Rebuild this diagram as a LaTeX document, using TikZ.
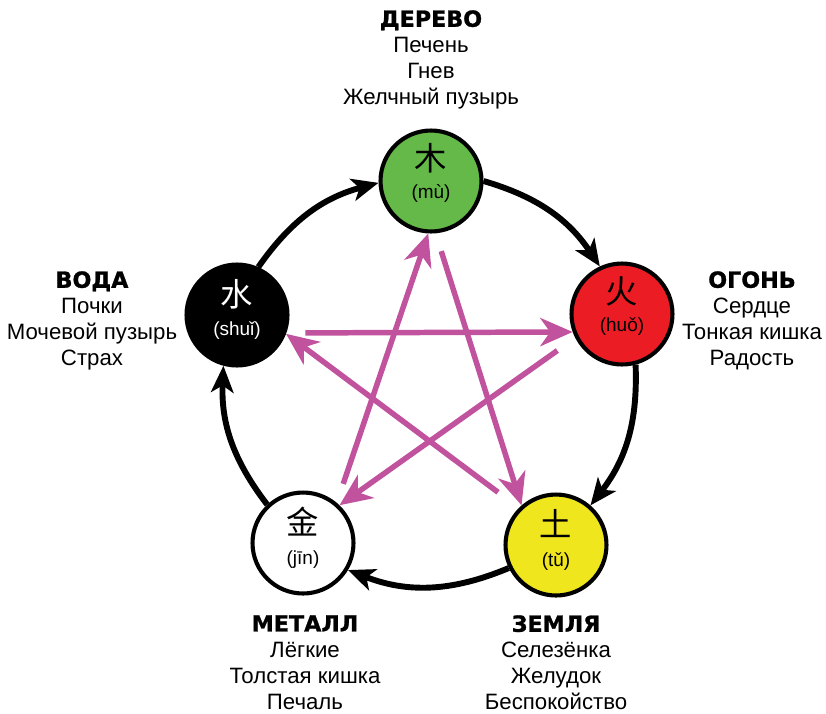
\documentclass[tikz,border=0pt]{standalone}
\usepackage{fontspec}
\setmainfont{Liberation Sans}
\newfontfamily\cjk{Noto Sans CJK SC}
\newfontfamily\headfont{DejaVu Sans Bold}[FakeBold=1.2]
\usetikzlibrary{arrows.meta}

\definecolor{woodgreen}{RGB}{100,185,72}
\definecolor{firered}{RGB}{236,28,36}
\definecolor{earthyellow}{RGB}{240,230,30}
\definecolor{ctrlpink}{RGB}{193,83,158}

\begin{document}
\begin{tikzpicture}[
			x = 0.025cm, y = -0.025cm,
			element/.style = {circle, draw, line width=2.9pt, minimum size=71.8pt, inner sep=0pt},
			hanzi/.style = {inner sep=0pt, font=\cjk\fontsize{23}{23}\selectfont},
			pinyin/.style = {inner sep=0pt, font=\fontsize{13.5}{15}\selectfont},
			organs/.style = {anchor=north, align=center, inner sep=0pt, font=\fontsize{15.8}{18.5}\selectfont},
			feed/.style = {line width=4.2pt, -{Stealth[length=19pt,width=16pt,inset=5pt]}},
			check/.style = {line width=3.9pt, ctrlpink, -{Stealth[length=23pt,width=20pt,inset=7pt]}}
			]

			\useasboundingbox (0,0) rectangle (826,713);

			% the five elements
			\node[element, fill=woodgreen] (wood) at (431,181) {};
			\node[element, fill=firered] (fire) at (622,314) {};
			\node[element, fill=earthyellow] (earth) at (556,545) {};
			\node[element, fill=white] (metal) at (303,543) {};
			\node[element, fill=black] (water) at (237,315) {};

			\node[hanzi] (woodzi) at (431,158) {木};
			\node[pinyin] (woodpy) at (431,193) {(mù)};
			\node[hanzi] (firezi) at (622,291) {火};
			\node[pinyin] (firepy) at (622,327) {(huǒ)};
			\node[hanzi] (earthzi) at (556,524) {土};
			\node[pinyin] (earthpy) at (556,562) {(tǔ)};
			\node[hanzi] (metalzi) at (303,522) {金};
			\node[pinyin] (metalpy) at (303,560) {(jīn)};
			\node[hanzi, white] (waterzi) at (237,294) {水};
			\node[pinyin, white] (waterpy) at (237,331) {(shuǐ)};

			% generating cycle
			\draw[feed] (wood.0) to[bend left=20] (fire.115);
			\draw[feed] (fire.-75) to[bend left=20] (earth.49);
			\draw[feed] (earth.206) to[bend left=22] (metal.-31);
			\draw[feed] (metal.133) to[bend left=20] (water.255);
			\draw[feed] (water.66) to[bend left=20] (wood.182);

			% controlling cycle
			\draw[check, shorten <=13.5pt] (water.-20) -- (fire.200);
			\draw[check, shorten <=15.6pt] (fire.207) -- (metal.46);
			\draw[check, shorten <=18.5pt] (earth.135) -- (water.-21);
			\draw[check, shorten <=14.2pt] (metal.50) -- (wood.-93);
			\draw[check, shorten <=13.3pt] (wood.-85) -- (earth.131);

			% labels
			\node[organs] (woodtext) at (431,10) {{\headfont ДЕРЕВО}\\Печень\\Гнев\\Желчный пузырь};
			\node[organs] (firetext) at (752,271) {{\headfont ОГОНЬ}\\Сердце\\Тонкая кишка\\Радость};
			\node[organs] (earthtext) at (556,615) {{\headfont ЗЕМЛЯ}\\Селезёнка\\Желудок\\Беспокойство};
			\node[organs] (metaltext) at (305,615) {{\headfont МЕТАЛЛ}\\Лёгкие\\Толстая кишка\\Печаль};
			\node[organs] (watertext) at (92,271) {{\headfont ВОДА}\\Почки\\Мочевой пузырь\\Страх};

		\end{tikzpicture}
\end{document}
